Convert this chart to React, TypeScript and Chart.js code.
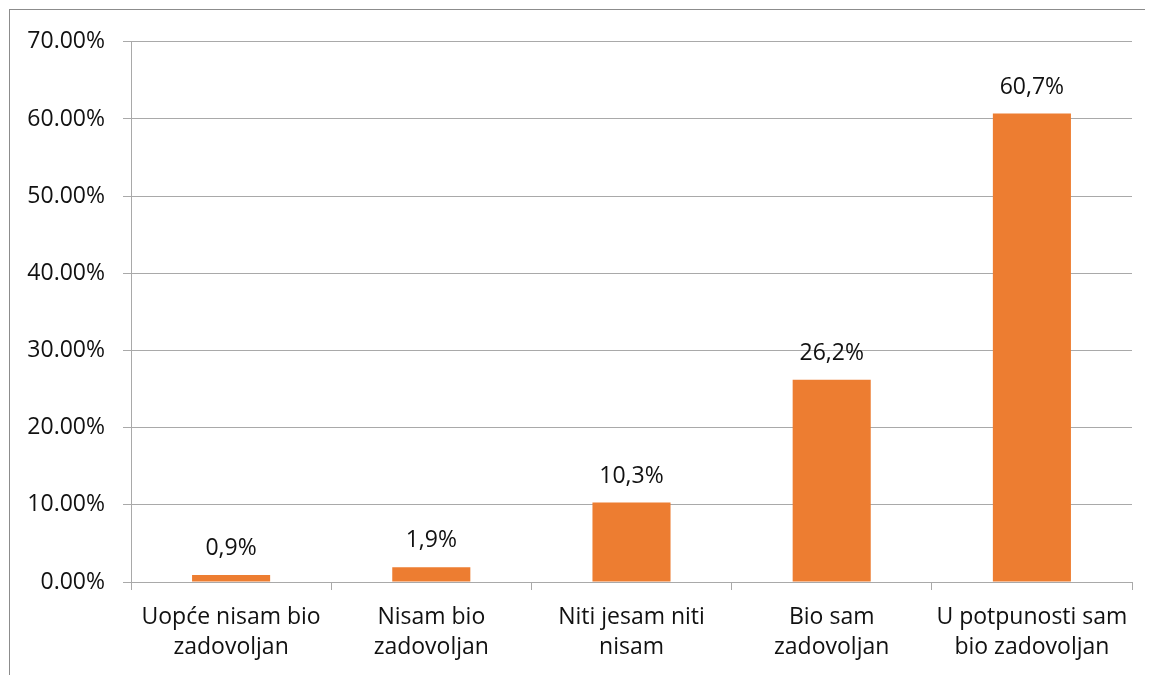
import React, { useEffect, useRef } from "react";
import { Chart, registerables } from "chart.js";

Chart.register(...registerables);

const categories: string[][] = [
  ["Uopće nisam bio", "zadovoljan"],
  ["Nisam bio", "zadovoljan"],
  ["Niti jesam niti", "nisam"],
  ["Bio sam", "zadovoljan"],
  ["U potpunosti sam", "bio zadovoljan"],
];
const values: number[] = [0.9, 1.9, 10.3, 26.2, 60.7];
const valueLabels: string[] = ["0,9%", "1,9%", "10,3%", "26,2%", "60,7%"];
const yMax = 70;
const yStep = 10;

const FONT = "'Open Sans'";
const SIZE = 23;
const TEXT = "#111111";
const GRID = "#a9a9a9";

const labelPlugin = {
  id: "valueLabels",
  afterDatasetsDraw(chart: any) {
    const ctx = chart.ctx;
    const meta = chart.getDatasetMeta(0);
    ctx.save();
    ctx.font = `${SIZE}px ${FONT}`;
    ctx.fillStyle = TEXT;
    ctx.textAlign = "center";
    ctx.textBaseline = "alphabetic";
    meta.data.forEach((bar: any, i: number) => {
      ctx.fillText(valueLabels[i], bar.x, bar.y - 20);
    });
    ctx.restore();
  },
};

export default function App() {
  const ref = useRef<HTMLCanvasElement | null>(null);
  useEffect(() => {
    document.body.style.overflow = "hidden";
    const chart = new Chart(ref.current!, {
      type: "bar",
      data: {
        labels: categories,
        datasets: [
          {
            data: values,
            backgroundColor: "#ED7D31",
            barPercentage: 0.39,
            categoryPercentage: 1,
          },
        ],
      },
      options: {
        animation: false,
        responsive: false,
        maintainAspectRatio: false,
        layout: { padding: { top: 27, right: 21, left: 0, bottom: 0 } },
        plugins: { legend: { display: false }, tooltip: { enabled: false } },
        scales: {
          x: {
            grid: {
              offset: true,
              drawOnChartArea: false,
              drawTicks: true,
              tickLength: 8,
              color: GRID,
            },
            border: { color: GRID },
            ticks: {
              color: TEXT,
              font: { family: FONT, size: SIZE, lineHeight: 30 / SIZE },
              padding: 12,
              maxRotation: 0,
              autoSkip: false,
            },
            afterFit: (s: any) => {
              s.height = 93;
            },
          },
          y: {
            min: 0,
            max: yMax,
            ticks: {
              stepSize: yStep,
              color: TEXT,
              font: { family: FONT, size: SIZE },
              padding: 18,
              callback: (v: any) => Number(v).toFixed(2) + "%",
            },
            grid: { color: GRID, tickLength: 8 },
            border: { color: GRID },
            afterFit: (s: any) => {
              s.width = 121;
            },
          },
        },
      },
      plugins: [labelPlugin],
    });
    return () => chart.destroy();
  }, []);
  return (
    <div
      style={{
        marginLeft: 1,
        marginTop: 1,
        width: 1144,
        height: 666,
        borderLeft: "1px solid #8c8c8c",
        borderTop: "1px solid #8c8c8c",
        boxSizing: "border-box",
      }}
    >
      <canvas ref={ref} width={1143} height={665} style={{ display: "block" }} />
    </div>
  );
}
